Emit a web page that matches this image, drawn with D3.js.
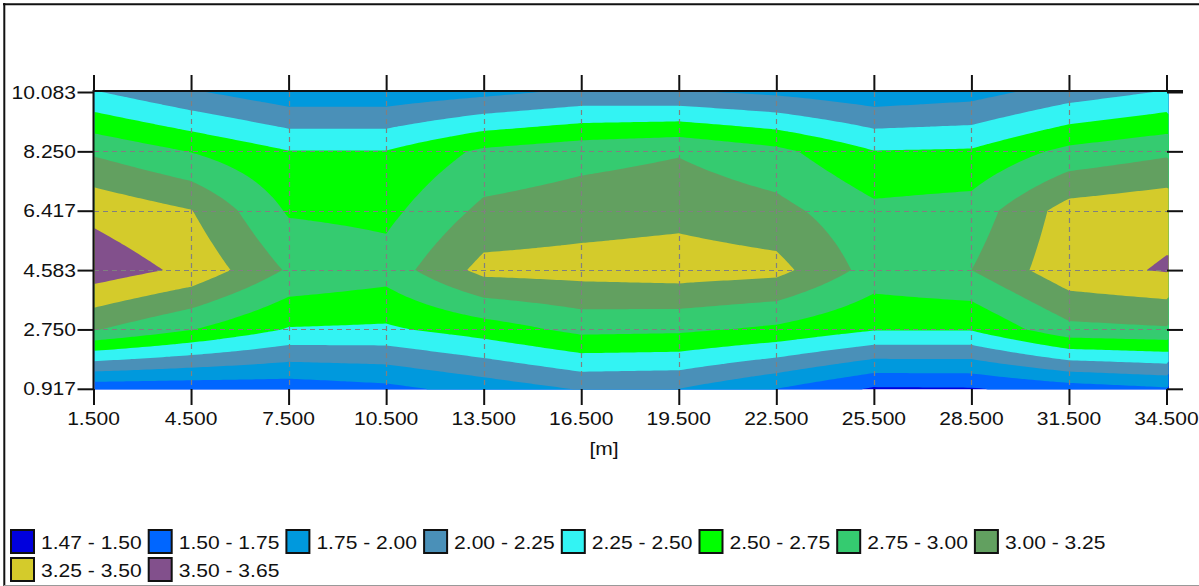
<!DOCTYPE html>
<html><head><meta charset="utf-8">
<script src="https://cdn.jsdelivr.net/npm/d3@7"></script>
<style>
html,body{margin:0;padding:0;background:#fff;}
svg{display:block;}
text{font-family:"Liberation Sans",Arial,sans-serif;font-size:18px;fill:#111;}
</style></head><body>
<svg id="chart" width="1199" height="586"></svg>
<script>
// ---- data (calculation grid) ----
const xValues = [1.5, 4.5, 7.5, 10.5, 13.5, 16.5, 19.5, 22.5, 25.5, 28.5, 31.5, 34.5];
const yValues = [0.917, 2.75, 4.583, 6.417, 8.25, 10.083];
const row_y0917  = [1.58, 1.58, 1.60, 1.68, 1.85, 2.02, 2.00, 1.75, 1.47, 1.48, 1.62, 1.72];
const row_y2750  = [3.02, 2.76, 2.48, 2.46, 2.62, 2.82, 2.80, 2.70, 2.52, 2.52, 2.93, 2.97];
const row_y4583  = [3.65, 3.44, 2.97, 2.86, 3.33, 3.35, 3.38, 3.33, 2.90, 3.00, 3.42, 3.52];
const row_y6417  = [3.44, 3.26, 2.72, 2.68, 3.06, 3.13, 3.17, 3.08, 2.81, 2.86, 3.36, 3.44];
const row_y8250  = [2.96, 2.74, 2.51, 2.51, 2.80, 2.91, 2.98, 2.82, 2.51, 2.53, 2.82, 2.95];
const row_y10083 = [2.27, 2.03, 1.83, 1.83, 1.93, 2.05, 2.03, 1.95, 1.83, 1.90, 2.12, 2.27];
const xTickLabels = ["1.500","4.500","7.500","10.500","13.500","16.500","19.500","22.500","25.500","28.500","31.500","34.500"];
const yTickLabels = ["0.917","2.750","4.583","6.417","8.250","10.083"];
const bandThresholds = [1.47, 1.50, 1.75, 2.00, 2.25, 2.50, 2.75, 3.00, 3.25, 3.50, 3.65];
const bandColors = ["#0000dd","#0066ff","#0099dd","#4a90b8","#33f3f3","#00ff00","#35cb70","#62a060","#d4cb2b","#82508c"];
const legendLabels = ["1.47 - 1.50","1.50 - 1.75","1.75 - 2.00","2.00 - 2.25","2.25 - 2.50","2.50 - 2.75","2.75 - 3.00","3.00 - 3.25","3.25 - 3.50","3.50 - 3.65"];
const axisTitle = "[m]";

// ---- drawing ----
const svg = d3.select("#chart");
const SX = 1.17; // horizontal text stretch
function addText(g, px, py, str, anchor){
  return g.append("text").attr("transform", `translate(${px},${py}) scale(${SX},1)`)
    .attr("text-anchor", anchor).text(str);
}

const x = d3.scaleLinear().domain([1.5, 34.5]).range([93.5, 1166.5]);
const y = d3.scaleLinear().domain([0.917, 10.083]).range([388.8, 92]);

// frame
svg.append("line").attr("x1",3).attr("x2",1199).attr("y1",4.3).attr("y2",4.3).attr("stroke","#111").attr("stroke-width",2);
svg.append("line").attr("x1",4.3).attr("x2",4.3).attr("y1",3).attr("y2",586).attr("stroke","#111").attr("stroke-width",2);
svg.append("line").attr("x1",4).attr("x2",1199).attr("y1",585.5).attr("y2",585.5).attr("stroke","#999").attr("stroke-width",1);

// grid of values, rows from bottom
const grid = [row_y0917, row_y2750, row_y4583, row_y6417, row_y8250, row_y10083];
const k = 24;
const nx = (xValues.length - 1) * k + 1, ny = (yValues.length - 1) * k + 1;
const vals = new Float64Array(nx * ny);
for (let r = 0; r < ny; r++) {
  const fy = (ny - 1 - r) / k;
  const j0 = Math.min(Math.floor(fy), yValues.length - 2), ty = fy - j0;
  for (let c = 0; c < nx; c++) {
    const fx = c / k;
    const i0 = Math.min(Math.floor(fx), xValues.length - 2), tx = fx - i0;
    const v00 = grid[j0][i0], v10 = grid[j0][i0+1], v01 = grid[j0+1][i0], v11 = grid[j0+1][i0+1];
    vals[r*nx + c] = (1-tx)*(1-ty)*v00 + tx*(1-ty)*v10 + (1-tx)*ty*v01 + tx*ty*v11;
  }
}
const fxs = d3.scaleLinear().domain([0.5, nx - 0.5]).range([xValues[0], xValues[xValues.length-1]]);
const fys = d3.scaleLinear().domain([0.5, ny - 0.5]).range([yValues[yValues.length-1], yValues[0]]);
const proj = d3.geoTransform({ point(px, py) { this.stream.point(x(fxs(px)), y(fys(py))); } });
const path = d3.geoPath(proj);
const contours = d3.contours().size([nx, ny]).thresholds(bandThresholds.slice(1, -1))(vals);

svg.append("clipPath").attr("id","plotclip").append("rect")
  .attr("x", 94.5).attr("y", y(10.083)).attr("width", 1169 - 94.5).attr("height", 389.5 - y(10.083));
const img = svg.append("g").attr("clip-path","url(#plotclip)");
img.append("rect").attr("x", 94.5).attr("y", y(10.083)).attr("width", 1169 - 94.5).attr("height", 389.5 - y(10.083))
  .attr("fill", bandColors[0]);
img.selectAll("path.band").data(contours).join("path").attr("class","band")
  .attr("d", path).attr("fill", (d, i) => bandColors[i + 1]);

// dashed grid lines
const gg = svg.append("g").attr("stroke","#808080").attr("stroke-width",1.2).attr("stroke-dasharray","5,4");
gg.selectAll("line.vx").data(xValues.slice(1, -1)).join("line").attr("class","vx")
  .attr("x1", d => Math.round(x(d)) + 0.5).attr("x2", d => Math.round(x(d)) + 0.5)
  .attr("y1", y(10.083)).attr("y2", 389);
gg.selectAll("line.hy").data(yValues.slice(1, -1)).join("line").attr("class","hy")
  .attr("y1", d => Math.round(y(d)) + 0.5).attr("y2", d => Math.round(y(d)) + 0.5)
  .attr("x1", 94).attr("x2", 1167);

// axes (ticks from d3 axes)
function styleAxis(g){ g.select(".domain").remove(); g.selectAll(".tick line").attr("stroke","#111").attr("stroke-width",2); }
svg.append("g").attr("transform","translate(0,91)")
  .call(d3.axisTop(x).tickValues(xValues).tickSize(16).tickFormat("")).call(styleAxis);
svg.append("g").attr("transform","translate(0,389)")
  .call(d3.axisBottom(x).tickValues(xValues).tickSize(16).tickFormat("")).call(styleAxis);
svg.append("g").attr("transform","translate(93.5,0)")
  .call(d3.axisLeft(y).tickValues(yValues).tickSize(16).tickFormat("")).call(styleAxis);
svg.append("g").attr("transform","translate(1167,0)")
  .call(d3.axisRight(y).tickValues(yValues).tickSize(16).tickFormat("")).call(styleAxis);
// axis lines
svg.append("line").attr("x1",93).attr("x2",1183).attr("y1",91).attr("y2",91).attr("stroke","#111").attr("stroke-width",2);
svg.append("line").attr("x1",93.5).attr("x2",93.5).attr("y1",90).attr("y2",389.5).attr("stroke","#111").attr("stroke-width",2);

// tick labels
const lab = svg.append("g");
xValues.forEach((v, i) => addText(lab, x(v), 425, xTickLabels[i], "middle"));
yValues.forEach((v, i) => addText(lab, 76, y(v) + 6.5, yTickLabels[i], "end"));
addText(lab, 604, 455, axisTitle, "middle");

// legend
const lg = svg.append("g");
legendLabels.forEach((t, i) => {
  const row = i < 8 ? 0 : 1, col = i % 8;
  const sx = 11 + col * 137.7, sy = 530 + row * 28;
  lg.append("rect").attr("x", sx).attr("y", sy).attr("width", 23).attr("height", 23)
    .attr("fill", bandColors[i]).attr("stroke", "#111").attr("stroke-width", 2);
  addText(lg, sx + 30, sy + 18.5, t, "start");
});
</script>
</body></html>
